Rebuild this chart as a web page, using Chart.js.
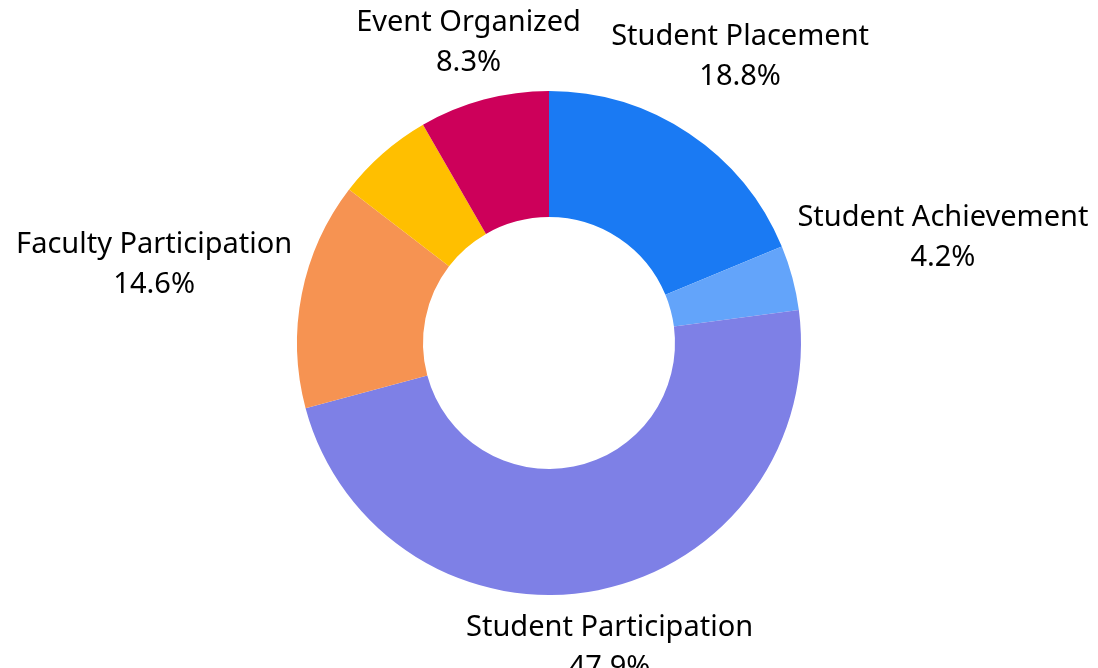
<!DOCTYPE html>
<html>
<head>
<meta charset="utf-8">
<script src="https://cdn.jsdelivr.net/npm/chart.js@4/dist/chart.umd.min.js"></script>
<style>
  html, body { margin: 0; padding: 0; background: #fff; }
  canvas { display: block; }
</style>
</head>
<body>
<canvas id="chart" width="1098" height="668"></canvas>
<script>
const categories = ['Student Placement', 'Student Achievement', 'Student Participation', 'Faculty Participation', 'Faculty Achievement', 'Event Organized'];
const counts = [9, 2, 23, 7, 3, 4];
const sliceColors = ['#1a7af3', '#63a4fa', '#7e80e6', '#f69352', '#ffbf00', '#cd005a'];

const LABEL_FONT = '29px "Noto Sans", sans-serif';
const LINE_H = 40;
const GAP = 15;

// outside labels along each slice's mid angle; bigger slices win when boxes collide
const outsideLabels = {
  id: 'outsideLabels',
  afterDatasetsDraw(chart) {
    const { ctx } = chart;
    const meta = chart.getDatasetMeta(0);
    const total = counts.reduce((a, b) => a + b, 0);
    const order = counts.map((v, i) => i).sort((a, b) => counts[b] - counts[a]);
    const placed = [];
    ctx.save();
    ctx.font = LABEL_FONT;
    ctx.fillStyle = '#000';
    ctx.textAlign = 'center';
    ctx.textBaseline = 'middle';
    order.forEach(i => {
      const arc = meta.data[i];
      const pct = (counts[i] / total * 100).toFixed(1) + '%';
      const lines = [categories[i], pct];
      const w = Math.max(...lines.map(l => ctx.measureText(l).width));
      const h = LINE_H * lines.length;
      const mid = (arc.startAngle + arc.endAngle) / 2;
      const c = Math.cos(mid), s = Math.sin(mid);
      const r = arc.outerRadius + GAP + Math.hypot(c * w / 2, s * (h / 2 - 6));
      const cx = arc.x + c * r, cy = arc.y + s * r;
      const box = { l: cx - w / 2, r: cx + w / 2, t: cy - h / 2, b: cy + h / 2 };
      const hit = placed.some(p => box.l < p.r && box.r > p.l && box.t < p.b && box.b > p.t);
      if (hit) return;
      placed.push(box);
      lines.forEach((l, k) => {
        ctx.fillText(l, cx, cy - h / 2 + LINE_H * (k + 0.5));
      });
    });
    ctx.restore();
  }
};

new Chart(document.getElementById('chart'), {
  type: 'doughnut',
  data: {
    labels: categories,
    datasets: [{
      data: counts,
      backgroundColor: sliceColors,
      borderWidth: 0,
      hoverOffset: 0
    }]
  },
  options: {
    responsive: false,
    animation: false,
    cutout: '50%',
    layout: { padding: { top: 91, bottom: 73, left: 0, right: 0 } },
    plugins: {
      legend: { display: false },
      tooltip: { enabled: false }
    }
  },
  plugins: [outsideLabels]
});
</script>
</body>
</html>
